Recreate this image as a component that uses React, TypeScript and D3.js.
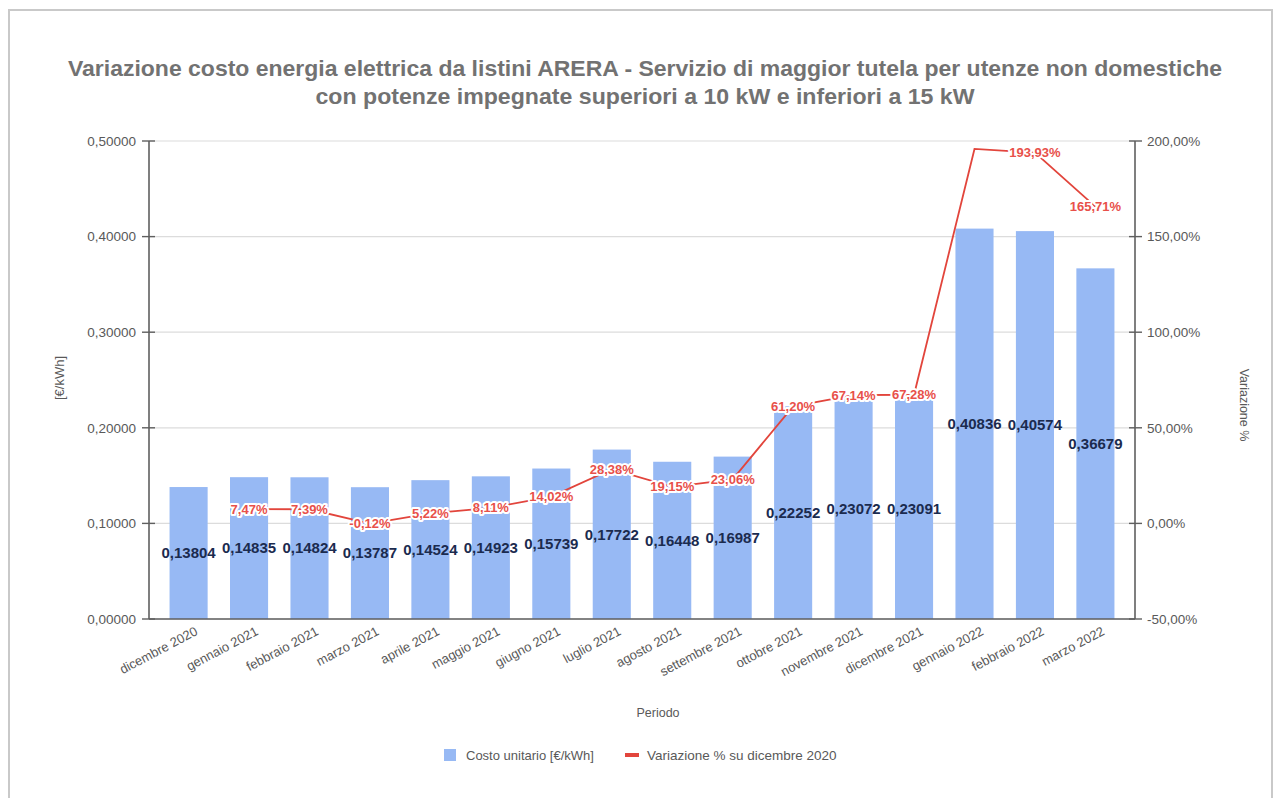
import React from "react";
import * as d3 from "d3";

const periods = [
  "dicembre 2020", "gennaio 2021", "febbraio 2021", "marzo 2021", "aprile 2021",
  "maggio 2021", "giugno 2021", "luglio 2021", "agosto 2021", "settembre 2021",
  "ottobre 2021", "novembre 2021", "dicembre 2021", "gennaio 2022", "febbraio 2022", "marzo 2022",
];
const costs = [
  0.13804, 0.14835, 0.14824, 0.13787, 0.14524, 0.14923, 0.15739, 0.17722,
  0.16448, 0.16987, 0.22252, 0.23072, 0.23091, 0.40836, 0.40574, 0.36679,
];
const variations: (number | null)[] = [
  null, 7.47, 7.39, -0.12, 5.22, 8.11, 14.02, 28.38,
  19.15, 23.06, 61.2, 67.14, 67.28, 195.83, 193.93, 165.71,
];
const showVarLabel = [
  false, true, true, true, true, true, true, true,
  true, true, true, true, true, false, true, true,
];
const leftTicks = [0, 0.1, 0.2, 0.3, 0.4, 0.5];
const rightTicks = [-50, 0, 50, 100, 150, 200];

const W = 1283;
const H = 798;
const M = { left: 149, right: 1135, top: 141, bottom: 619 };

const fmtCost = (v: number) => v.toFixed(5).replace(".", ",");
const fmtPct = (v: number) => v.toFixed(2).replace(".", ",") + "%";

export default function App() {
  const x = d3.scaleBand<string>().domain(periods).range([M.left, M.right]).paddingInner(0.37).paddingOuter(0.34);
  const yL = d3.scaleLinear().domain([0, 0.5]).range([M.bottom, M.top]);
  const yR = d3.scaleLinear().domain([-50, 200]).range([M.bottom, M.top]);
  const cx = (p: string) => (x(p) as number) + x.bandwidth() / 2;

  const linePts = periods
    .map((p, i) => ({ p, v: variations[i], show: showVarLabel[i] }))
    .filter((d) => d.v !== null) as { p: string; v: number; show: boolean }[];
  const lineGen = d3.line<{ p: string; v: number }>().x((d) => cx(d.p)).y((d) => yR(d.v));

  const font = "Arial, 'Liberation Sans', sans-serif";
  const axisColor = "#5f5f5f";
  const textColor = "#595959";

  return (
    <svg width={W} height={H} style={{ position: "absolute", left: 0, top: 0, fontFamily: font }}>
      <rect x={0} y={0} width={W} height={H} fill="#fff" />
      <rect x={9} y={10} width={1263} height={800} fill="none" stroke="#c9c9c9" strokeWidth={2} />
      <text x={645} y={76} textAnchor="middle" fontSize={22} fontWeight="bold" fill="#727272"
        textLength={1154} lengthAdjust="spacingAndGlyphs">
        Variazione costo energia elettrica da listini ARERA - Servizio di maggior tutela per utenze non domestiche
      </text>
      <text x={645} y={104} textAnchor="middle" fontSize={22} fontWeight="bold" fill="#727272"
        textLength={659} lengthAdjust="spacingAndGlyphs">
        con potenze impegnate superiori a 10 kW e inferiori a 15 kW
      </text>

      {leftTicks.map((t) => (
        <line key={"g" + t} x1={M.left} x2={M.right} y1={yL(t)} y2={yL(t)} stroke="#dcdcdc" strokeWidth={1.2} />
      ))}

      {periods.map((p, i) => (
        <rect key={p} x={x(p)} y={yL(costs[i])} width={x.bandwidth()} height={yL(0) - yL(costs[i])} fill="#97b9f4" />
      ))}

      <line x1={M.left} x2={M.left} y1={M.top} y2={M.bottom} stroke={axisColor} strokeWidth={1.6} />
      <line x1={M.right} x2={M.right} y1={M.top} y2={M.bottom} stroke={axisColor} strokeWidth={1.6} />
      <line x1={M.left} x2={M.right} y1={M.bottom} y2={M.bottom} stroke={axisColor} strokeWidth={1.6} />

      {leftTicks.map((t) => (
        <g key={"l" + t}>
          <line x1={M.left - 7} x2={M.left + 6} y1={yL(t)} y2={yL(t)} stroke={axisColor} strokeWidth={1.4} />
          <text x={M.left - 13} y={yL(t)} dy="0.35em" textAnchor="end" fontSize={13.5} fill={textColor}>
            {fmtCost(t)}
          </text>
        </g>
      ))}
      {rightTicks.map((t) => (
        <g key={"r" + t}>
          <line x1={M.right - 6} x2={M.right + 7} y1={yR(t)} y2={yR(t)} stroke={axisColor} strokeWidth={1.4} />
          <text x={M.right + 12} y={yR(t)} dy="0.35em" textAnchor="start" fontSize={13.5} fill={textColor}>
            {fmtPct(t)}
          </text>
        </g>
      ))}

      {periods.map((p) => (
        <text
          key={"x" + p}
          transform={`translate(${cx(p) + 10},${M.bottom + 15}) rotate(-28)`}
          textAnchor="end"
          fontSize={13}
          fill={textColor}
        >
          {p}
        </text>
      ))}

      {periods.map((p, i) => (
        <text
          key={"bl" + p}
          x={cx(p)}
          y={yL(costs[i] / 2)}
          dy="0.35em"
          textAnchor="middle"
          fontSize={15}
          fontWeight="bold"
          fill="#1b2b4f"
        >
          {fmtCost(costs[i])}
        </text>
      ))}

      <path d={lineGen(linePts) || ""} fill="none" stroke="#e2453c" strokeWidth={1.8} />
      {linePts
        .filter((d) => d.show)
        .map((d) => (
          <text
            key={"vl" + d.p}
            x={cx(d.p)}
            y={yR(d.v)}
            dy="0.35em"
            textAnchor="middle"
            fontSize={13}
            fontWeight="bold"
            fill="#e8504a"
            stroke="#fff"
            strokeWidth={4}
            paintOrder="stroke"
            strokeLinejoin="round"
          >
            {fmtPct(d.v)}
          </text>
        ))}

      <text transform={`translate(64,378) rotate(-90)`} textAnchor="middle" fontSize={13} fill={textColor}>
        [€/kWh]
      </text>
      <text transform={`translate(1240,405) rotate(90)`} textAnchor="middle" fontSize={12.5} fill={textColor}>
        Variazione %
      </text>
      <text x={658} y={717} textAnchor="middle" fontSize={12.5} fill={textColor}>
        Periodo
      </text>

      <rect x={444} y={749} width={12} height={12} fill="#97b9f4" />
      <text x={466} y={755} dy="0.35em" fontSize={13} fill={textColor}>
        Costo unitario [€/kWh]
      </text>
      <rect x={625} y={753} width={14} height={4} fill="#e2453c" />
      <text x={647} y={755} dy="0.35em" fontSize={13.5} fill={textColor}>
        Variazione % su dicembre 2020
      </text>
    </svg>
  );
}
